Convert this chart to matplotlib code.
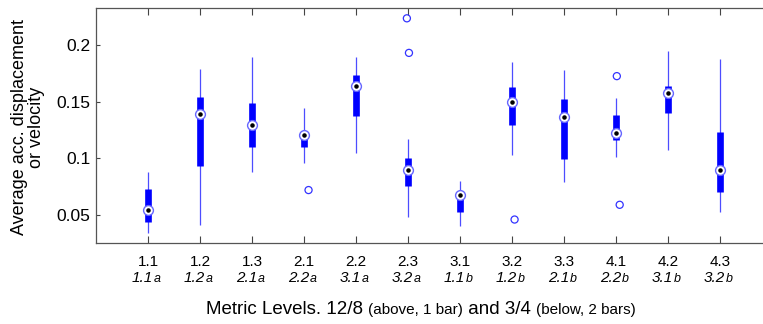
import matplotlib
matplotlib.use("Agg")
import matplotlib.pyplot as plt

plt.rcParams['font.family'] = ['Liberation Sans', 'DejaVu Sans']

# metric levels: 12/8 (top row) and 3/4 (bottom row)
labels_top = ["1.1", "1.2", "1.3", "2.1", "2.2", "2.3", "3.1", "3.2", "3.3", "4.1", "4.2", "4.3"]
labels_bot = ["1.1", "1.2", "2.1", "2.2", "3.1", "3.2", "1.1", "1.2", "2.1", "2.2", "3.1", "3.2"]
labels_bot_suffix = ["a"] * 6 + ["b"] * 6

# box stats
whisker_lo = [0.034, 0.041, 0.088, 0.096, 0.105, 0.048, 0.040, 0.103, 0.079, 0.101, 0.107, 0.053]
q1         = [0.044, 0.093, 0.110, 0.110, 0.137, 0.076, 0.053, 0.129, 0.099, 0.116, 0.140, 0.070]
median     = [0.0545, 0.139, 0.129, 0.121, 0.164, 0.090, 0.0675, 0.150, 0.1365, 0.1225, 0.158, 0.090]
q3         = [0.073, 0.154, 0.149, 0.123, 0.1735, 0.100, 0.071, 0.163, 0.152, 0.138, 0.164, 0.1235]
whisker_hi = [0.088, 0.179, 0.189, 0.144, 0.189, 0.117, 0.080, 0.185, 0.178, 0.153, 0.195, 0.188]

# outliers: group index (1-based), value, jitter
out_group = [4, 6, 6, 8, 10, 10]
out_value = [0.072, 0.2235, 0.193, 0.046, 0.1725, 0.059]
out_jitter = [0.085, -0.025, 0.015, 0.045, 0.01, 0.065]

pos = list(range(1, len(median) + 1))

W, H = 763, 324
fig = plt.figure(figsize=(W / 100, H / 100), dpi=100)
ax = fig.add_axes([96 / W, 81 / H, 13 * 52.03 / W, 235 / H])

box_col = (0, 0, 1)
wh_col = (0.3, 0.3, 1)

ax.vlines(pos, whisker_lo, whisker_hi, color=wh_col, lw=0.9, zorder=2)
ax.vlines(pos, q1, q3, color=box_col, lw=4.8, zorder=3)
ax.scatter(pos, median, s=50, facecolor='white', edgecolor=(0.4, 0.4, 1), lw=1.0, zorder=4)
ax.scatter(pos, median, s=5, color='black', zorder=5)
ax.scatter([g + j for g, j in zip(out_group, out_jitter)], out_value, s=26,
           facecolor='none', edgecolor=(0.2, 0.2, 1), lw=0.9, zorder=4)

ax.set_xlim(0, 13)
ax.set_ylim(0.0253, 0.2326)
ax.set_yticks([0.05, 0.1, 0.15, 0.2])
ax.set_yticklabels(["0.05", "0.1", "0.15", "0.2"], fontsize=12.5)
ax.set_xticks(pos)
ax.set_xticklabels([])
ax.tick_params(axis='x', direction='in', length=5, width=0.8, color='#444444', top=True)
ax.tick_params(axis='y', direction='in', length=3, width=0.8, color='#444444', pad=4)
for s in ['left', 'top', 'bottom']:
    ax.spines[s].set_color('#555555')
    ax.spines[s].set_linewidth(0.9)
ax.spines['right'].set_visible(False)

trans = ax.get_xaxis_transform()
y_row1 = -(266 - 243) / 235
y_row2 = -(282 - 243) / 235
for p, t1, t2, suf in zip(pos, labels_top, labels_bot, labels_bot_suffix):
    ax.text(p, y_row1, t1, transform=trans, ha='center', va='baseline', fontsize=11)
    ax.annotate(t2, xy=(p, y_row2), xycoords=trans, xytext=(5, 0), textcoords='offset pixels',
                ha='right', va='baseline', fontsize=11, style='italic')
    ax.annotate(suf, xy=(p, y_row2), xycoords=trans, xytext=(5.5, 0), textcoords='offset pixels',
                ha='left', va='baseline', fontsize=9, style='italic')

fig.text(28 / W, 1 - 127 / H, "Average acc. displacement\nor velocity", rotation=90,
         ha='center', va='center', multialignment='center', fontsize=13, linespacing=1.05)

# x label with smaller parenthetical parts
parts = [("Metric Levels. 12/8 ", 13.5), ("(above, 1 bar)", 11), (" and 3/4 ", 13.5), ("(below, 2 bars)", 11)]
fig.canvas.draw()
renderer = fig.canvas.get_renderer()
texts = [fig.text(0, 0, s, fontsize=fs, va='baseline') for s, fs in parts]
widths = [t.get_window_extent(renderer).width for t in texts]
x0 = 421 - sum(widths) / 2
for t, w in zip(texts, widths):
    t.set_position((x0 / W, (H - 314) / H))
    x0 += w

fig.savefig("out.png", dpi=100)
